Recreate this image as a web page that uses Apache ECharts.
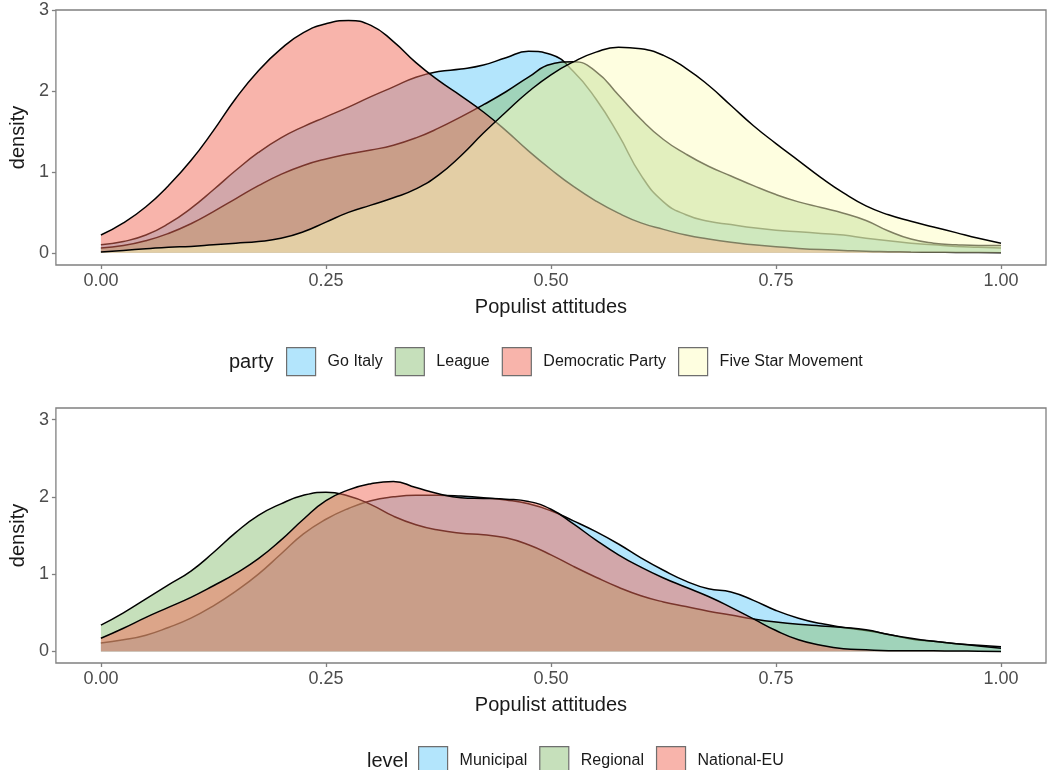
<!DOCTYPE html>
<html>
<head>
<meta charset="utf-8">
<script src="https://cdn.jsdelivr.net/npm/echarts@6/dist/echarts.min.js"></script>
<style>html,body{margin:0;padding:0;background:#fff;}#c{width:1047px;height:770px;}</style>
</head>
<body>
<div id="c"></div>
<script>
// ---- data ----
const xGrid = [0,0.025,0.05,0.075,0.1,0.125,0.15,0.175,0.2,0.225,0.25,0.275,0.3,0.325,0.35,0.375,0.4,0.425,0.45,0.475,0.5,0.525,0.55,0.575,0.6,0.625,0.65,0.675,0.7,0.725,0.75,0.775,0.8,0.825,0.85,0.875,0.9,0.925,0.95,0.975,1.0];
const xTicks = [0, 0.25, 0.5, 0.75, 1];
const yTicks = [0, 1, 2, 3];

const partyNames = ['Go Italy', 'League', 'Democratic Party', 'Five Star Movement'];
const goItaly   = [0.10,0.14,0.22,0.36,0.55,0.78,1.02,1.24,1.42,1.56,1.68,1.80,1.93,2.05,2.17,2.24,2.27,2.32,2.41,2.49,2.45,2.24,1.90,1.46,0.96,0.63,0.47,0.39,0.35,0.31,0.28,0.26,0.24,0.22,0.18,0.15,0.12,0.10,0.08,0.07,0.06];
const league    = [0.06,0.09,0.15,0.24,0.36,0.51,0.67,0.83,0.97,1.08,1.16,1.22,1.27,1.33,1.42,1.54,1.68,1.83,1.99,2.17,2.33,2.36,2.24,1.95,1.65,1.40,1.22,1.07,0.95,0.83,0.72,0.63,0.56,0.49,0.40,0.27,0.17,0.12,0.10,0.09,0.09];
const democratic= [0.22,0.37,0.57,0.83,1.14,1.51,1.91,2.25,2.52,2.72,2.83,2.87,2.81,2.61,2.35,2.13,1.94,1.74,1.51,1.26,1.03,0.82,0.64,0.49,0.37,0.29,0.22,0.17,0.13,0.10,0.075,0.055,0.04,0.03,0.02,0.015,0.01,0.008,0.005,0.003,0.0];
const fiveStar  = [0.01,0.03,0.05,0.07,0.08,0.10,0.12,0.14,0.18,0.26,0.38,0.50,0.59,0.68,0.79,0.96,1.20,1.48,1.74,1.99,2.20,2.36,2.48,2.54,2.52,2.44,2.28,2.07,1.82,1.57,1.35,1.14,0.93,0.74,0.58,0.47,0.39,0.32,0.25,0.18,0.12];

const levelNames = ['Municipal', 'Regional', 'National-EU'];
const municipal = [0.11,0.15,0.21,0.31,0.43,0.59,0.78,1.00,1.26,1.52,1.71,1.85,1.95,2.00,2.02,2.02,2.01,1.99,1.96,1.91,1.82,1.69,1.55,1.39,1.21,1.05,0.91,0.81,0.77,0.66,0.53,0.43,0.36,0.31,0.27,0.22,0.16,0.13,0.10,0.08,0.06];
const regional  = [0.34,0.50,0.68,0.86,1.04,1.28,1.54,1.76,1.91,2.02,2.06,2.01,1.90,1.75,1.64,1.57,1.53,1.51,1.47,1.38,1.25,1.10,0.96,0.83,0.72,0.64,0.58,0.52,0.47,0.42,0.38,0.35,0.33,0.31,0.28,0.22,0.17,0.13,0.10,0.07,0.04];
const nationalEU= [0.17,0.30,0.44,0.57,0.70,0.85,1.01,1.20,1.44,1.71,1.95,2.09,2.17,2.20,2.12,2.04,1.99,1.98,1.97,1.94,1.84,1.65,1.44,1.25,1.09,0.95,0.83,0.71,0.57,0.42,0.27,0.15,0.08,0.035,0.02,0.01,0.01,0.008,0.005,0.003,0.0];

// ---- styles ----
const partyFills = ['rgba(103,203,249,0.5)','rgba(141,193,119,0.5)','rgba(241,105,87,0.5)','rgba(253,253,193,0.5)'];
const levelFills = ['rgba(103,203,249,0.5)','rgba(141,193,119,0.5)','rgba(241,105,87,0.5)'];
const FONT = '"Liberation Sans", Arial, sans-serif';
const GRAYBORDER = '#808080';

function mkSeries(name, vals, fill, idx, order) {
  return {
    name: name, type: 'line', xAxisIndex: idx, yAxisIndex: idx,
    z: 2 + order,
    data: xGrid.map((x, i) => [x, vals[i]]),
    smooth: 0.5, symbol: 'none', silent: true,
    lineStyle: { color: '#000', width: 1.5 },
    itemStyle: { color: fill },
    areaStyle: { color: fill, opacity: 1 }
  };
}

function mkX(idx) {
  return {
    type: 'value', gridIndex: idx, min: -0.05, max: 1.05,
    name: 'Populist attitudes', nameLocation: 'middle', nameGap: 32,
    nameTextStyle: { fontFamily: FONT, fontSize: 20, color: '#1a1a1a' },
    axisLine: { show: false, onZero: false },
    axisTick: { show: true, length: 4, inside: false, customValues: xTicks, lineStyle: { color: GRAYBORDER, width: 1.3 } },
    axisLabel: { customValues: xTicks, margin: 7, fontFamily: FONT, fontSize: 18, color: '#4d4d4d', formatter: v => v.toFixed(2) },
    splitLine: { show: false }
  };
}
function mkY(idx, min, max) {
  return {
    type: 'value', gridIndex: idx, min: min, max: max,
    name: 'density', nameLocation: 'middle', nameGap: 26,
    nameTextStyle: { fontFamily: FONT, fontSize: 20, color: '#1a1a1a' },
    axisLine: { show: false, onZero: false },
    axisTick: { show: true, length: 4, customValues: yTicks, lineStyle: { color: GRAYBORDER, width: 1.3 } },
    axisLabel: { customValues: yTicks, margin: 7, fontFamily: FONT, fontSize: 18, color: '#4d4d4d' },
    splitLine: { show: false }
  };
}
function mkLegend(names, fills, left, top) {
  return {
    left: left, top: top, orient: 'horizontal', padding: 0,
    itemWidth: 29, itemHeight: 28, itemGap: 12, icon: 'rect',
    selectedMode: false,
    textStyle: { fontFamily: FONT, fontSize: 16, color: '#1a1a1a', padding: [0, 0, 0, 7] },
    data: names.map((n, i) => ({ name: n, icon: 'rect', itemStyle: { color: fills[i], borderColor: '#6e6e6e', borderWidth: 1.2 } }))
  };
}

const chart = echarts.init(document.getElementById('c'), null, { renderer: 'canvas' });
chart.setOption({
  animation: false,
  backgroundColor: '#fff',
  grid: [
    { left: 51, top: 10, width: 995, height: 255, show: true, borderColor: GRAYBORDER, borderWidth: 1.3, backgroundColor: 'transparent' },
    { left: 51, top: 408, width: 995, height: 255, show: true, borderColor: GRAYBORDER, borderWidth: 1.3, backgroundColor: 'transparent' }
  ],
  xAxis: [mkX(0), mkX(1)],
  yAxis: [mkY(0, -0.15, 3), mkY(1, -0.15, 3.15)],
  legend: [mkLegend(partyNames, partyFills, 286, 347), mkLegend(levelNames, levelFills, 418, 746)],
  graphic: [
    { type: 'text', left: 229, top: 352, style: { text: 'party', fontFamily: FONT, fontSize: 20, fill: '#1a1a1a' } },
    { type: 'text', left: 367, top: 751, style: { text: 'level', fontFamily: FONT, fontSize: 20, fill: '#1a1a1a' } }
  ],
  series: [
    mkSeries(partyNames[0], goItaly, partyFills[0], 0, 0),
    mkSeries(partyNames[1], league, partyFills[1], 0, 1),
    mkSeries(partyNames[2], democratic, partyFills[2], 0, 2),
    mkSeries(partyNames[3], fiveStar, partyFills[3], 0, 3),
    mkSeries(levelNames[0], municipal, levelFills[0], 1, 0),
    mkSeries(levelNames[1], regional, levelFills[1], 1, 1),
    mkSeries(levelNames[2], nationalEU, levelFills[2], 1, 2)
  ]
});
</script>
</body>
</html>
